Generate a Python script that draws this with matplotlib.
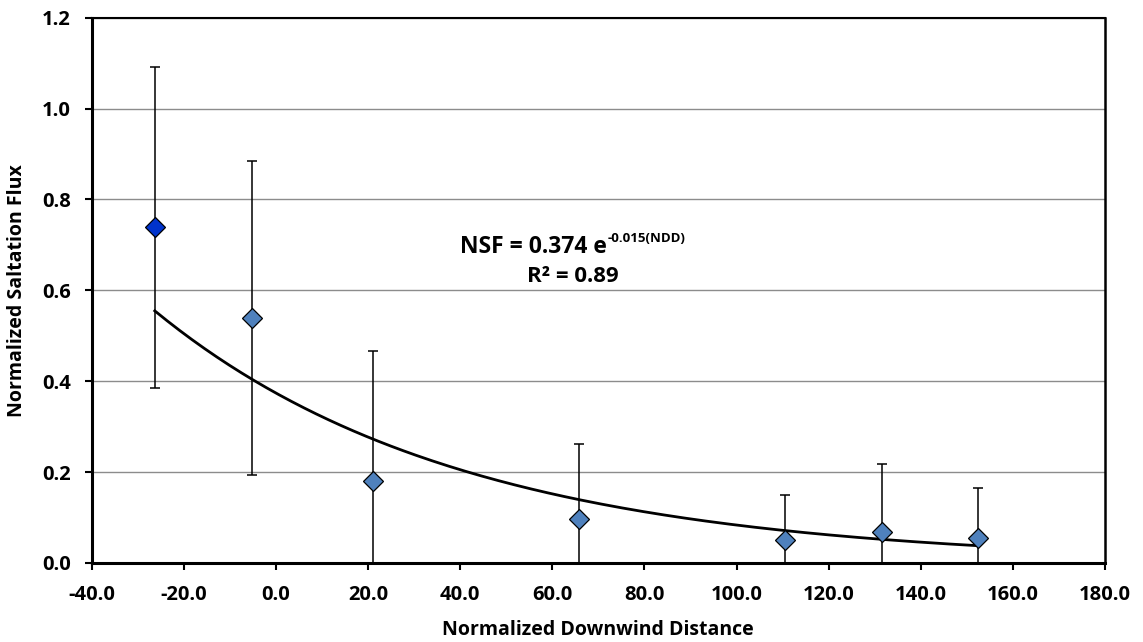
import matplotlib.pyplot as plt
import numpy as np

# normalized downwind distance and saltation flux
ndd = [-26.3, -5.2, 21.1, 65.8, 110.5, 131.6, 152.5]
nsf = [0.739, 0.539, 0.181, 0.096, 0.050, 0.069, 0.056]
nsf_err = [0.353, 0.346, 0.285, 0.166, 0.099, 0.149, 0.108]

# exponential trendline NSF = a * exp(b * NDD)
fit_a = 0.374
fit_b = -0.015

x_ticks = np.arange(-40, 181, 20)
y_ticks = np.arange(0, 1.21, 0.2)

plt.rcParams['font.family'] = ['Open Sans', 'DejaVu Sans']
plt.rcParams['font.weight'] = 'bold'

fig = plt.figure(figsize=(11.43, 6.42), dpi=100)
ax = fig.add_axes([0.0802, 0.1231, 0.8866, 0.8493])

ax.set_xlim(-40, 180)
ax.set_ylim(0, 1.2)
ax.set_xticks(x_ticks)
ax.set_yticks(y_ticks)
ax.set_xticklabels([f'{v:.1f}' for v in x_ticks])
ax.set_yticklabels([f'{v:.1f}' for v in y_ticks])
ax.tick_params(labelsize=14.5, length=5, width=1.5, direction='out')
ax.tick_params(axis='x', pad=11)
ax.tick_params(axis='y', pad=10)
for lbl in ax.get_xticklabels() + ax.get_yticklabels():
    lbl.set_fontweight('bold')

ax.yaxis.grid(True, color='#8c8c8c', lw=1.0)
ax.set_axisbelow(True)

ax.spines['left'].set_linewidth(2.2)
ax.spines['bottom'].set_linewidth(2.2)
ax.spines['top'].set_linewidth(1.5)
ax.spines['right'].set_linewidth(1.8)

# error bars
ax.errorbar(ndd, nsf, yerr=nsf_err, fmt='none', ecolor='black',
            elinewidth=1.1, capsize=3.5, capthick=1.1, zorder=2)

# trendline
xs = np.linspace(ndd[0], ndd[-1], 200)
ax.plot(xs, fit_a * np.exp(fit_b * xs), color='black', lw=2, zorder=3)

# markers: first point highlighted
colors = ['#0033cc'] + ['#4f81bd'] * (len(ndd) - 1)
for x, y, c in zip(ndd, nsf, colors):
    ax.plot([x], [y], marker='D', markersize=10.5, markerfacecolor=c,
            markeredgecolor='black', markeredgewidth=0.9, ls='none', zorder=4)

ax.set_xlabel('Normalized Downwind Distance', fontsize=14, fontweight='bold')
ax.set_ylabel('Normalized Saltation Flux', fontsize=14, fontweight='bold')
ax.xaxis.set_label_coords(0.5, -0.104)
ax.yaxis.set_label_coords(-0.064, 0.5)

# equation annotation
fig.text(607 / 1143, 1 - 247 / 642, 'NSF = 0.374 e', ha='right', va='center',
         fontsize=16.5, fontweight='bold')
fig.text(608 / 1143, 1 - 239 / 642, '-0.015(NDD)', ha='left', va='center',
         fontsize=9.5, fontweight='bold')
fig.text(573 / 1143, 1 - 276 / 642, 'R² = 0.89', ha='center', va='center',
         fontsize=16, fontweight='bold')

fig.savefig('out.png', dpi=100)
